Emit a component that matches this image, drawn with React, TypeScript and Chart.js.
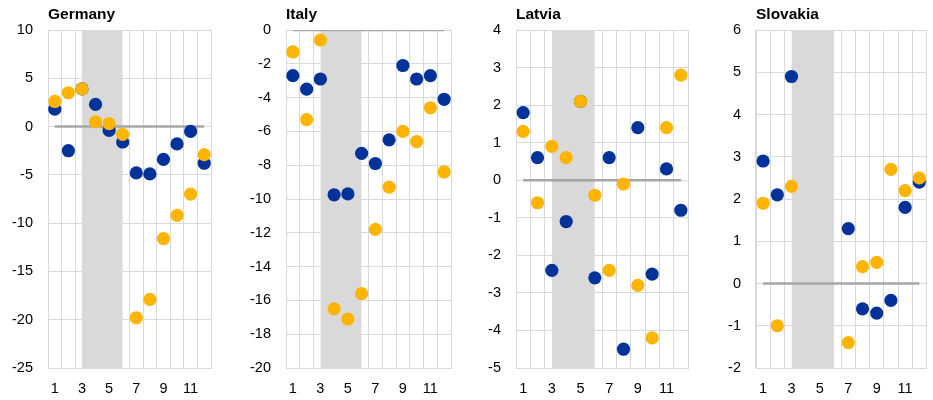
import React, { useEffect, useRef } from 'react';
import { Chart, registerables } from 'chart.js';

Chart.register(...registerables);

// Months on the horizontal axis
const MONTHS = ['1', '2', '3', '4', '5', '6', '7', '8', '9', '10', '11', '12'];
// Shaded window runs from month 3 to month 6 (category indices)
const SHADE_START = 2;
const SHADE_END = 5;

const GERMANY_BLUE = [1.8, -2.5, 3.9, 2.3, -0.4, -1.6, -4.8, -4.9, -3.4, -1.8, -0.5, -3.8];
const GERMANY_YELLOW = [2.6, 3.5, 3.9, 0.5, 0.3, -0.8, -19.8, -17.9, -11.6, -9.2, -7.0, -2.9];

const ITALY_BLUE = [-2.7, -3.5, -2.9, -9.75, -9.7, -7.3, -7.9, -6.5, -2.1, -2.9, -2.7, -4.1];
const ITALY_YELLOW = [-1.3, -5.3, -0.6, -16.5, -17.1, -15.6, -11.8, -9.3, -6.0, -6.6, -4.6, -8.4];

const LATVIA_BLUE = [1.8, 0.6, -2.4, -1.1, 2.1, -2.6, 0.6, -4.5, 1.4, -2.5, 0.3, -0.8];
const LATVIA_YELLOW = [1.3, -0.6, 0.9, 0.6, 2.1, -0.4, -2.4, -0.1, -2.8, -4.2, 1.4, 2.8];

const SLOVAKIA_BLUE = [2.9, 2.1, 4.9, null, null, null, 1.3, -0.6, -0.7, -0.4, 1.8, 2.4];
const SLOVAKIA_YELLOW = [1.9, -1.0, 2.3, null, null, null, -1.4, 0.4, 0.5, 2.7, 2.2, 2.5];

const BLUE = '#003299';
const YELLOW = '#FFB400';
const GRID = '#d9d9d9';
const SHADE = '#d9d9d9';
const ZERO_LINE = '#a6a6a6';
const FONT = 'Arial, "Liberation Sans", sans-serif';

type Panel = {
  title: string;
  blue: (number | null)[];
  yellow: (number | null)[];
  min: number;
  max: number;
  step: number;
  width: number;
  plotLeft: number;
  rightPad: number;
};

const PANELS: Panel[] = [
  { title: 'Germany', blue: GERMANY_BLUE, yellow: GERMANY_YELLOW, min: -25, max: 10, step: 5, width: 233, plotLeft: 48, rightPad: 22 },
  { title: 'Italy', blue: ITALY_BLUE, yellow: ITALY_YELLOW, min: -20, max: 0, step: 2, width: 233, plotLeft: 53, rightPad: 15 },
  { title: 'Latvia', blue: LATVIA_BLUE, yellow: LATVIA_YELLOW, min: -5, max: 4, step: 1, width: 233, plotLeft: 50, rightPad: 11 },
  { title: 'Slovakia', blue: SLOVAKIA_BLUE, yellow: SLOVAKIA_YELLOW, min: -2, max: 6, step: 1, width: 234, plotLeft: 57, rightPad: 4 },
];

function CountryChart({ panel }: { panel: Panel }) {
  const ref = useRef<HTMLCanvasElement | null>(null);

  useEffect(() => {
    if (!ref.current) return;
    const shade = MONTHS.map((_, i) => (i >= SHADE_START && i <= SHADE_END ? panel.max : null));
    const zero = MONTHS.map(() => 0);

    const chart = new Chart(ref.current, {
      type: 'line',
      data: {
        labels: MONTHS,
        datasets: [
          {
            label: 'yellow',
            data: panel.yellow,
            showLine: false,
            pointRadius: 6.6,
            pointBorderWidth: 0,
            pointBackgroundColor: YELLOW,
            pointBorderColor: YELLOW,
            order: 0,
          },
          {
            label: 'blue',
            data: panel.blue,
            showLine: false,
            pointRadius: 6.6,
            pointBorderWidth: 0,
            pointBackgroundColor: BLUE,
            pointBorderColor: BLUE,
            order: 1,
          },
          {
            label: 'zero',
            data: zero,
            borderColor: ZERO_LINE,
            borderWidth: 2.5,
            pointRadius: 0,
            order: 2,
          },
          {
            label: 'shade',
            data: shade,
            borderWidth: 0,
            borderColor: 'rgba(0,0,0,0)',
            backgroundColor: SHADE,
            pointRadius: 0,
            fill: 'start',
            spanGaps: false,
            order: 3,
          },
        ],
      },
      options: {
        animation: false,
        responsive: false,
        devicePixelRatio: 1,
        events: [],
        layout: { padding: { left: 0, right: panel.rightPad, top: 0, bottom: 3 } },
        plugins: {
          legend: { display: false },
          tooltip: { enabled: false },
          title: {
            display: true,
            text: panel.title,
            align: 'start',
            fullSize: false,
            color: '#000',
            font: { family: FONT, size: 15.5, weight: 'bold' },
            padding: { top: 5, bottom: 6.4 },
          },
        },
        scales: {
          x: {
            type: 'category',
            offset: true,
            grid: { offset: true, color: GRID, drawTicks: false, lineWidth: 1 },
            border: { color: GRID },
            ticks: {
              autoSkip: false,
              maxRotation: 0,
              padding: 12,
              color: '#000',
              font: { family: FONT, size: 14.5 },
              callback: (_v: any, i: number) => (i % 2 === 0 ? MONTHS[i] : ''),
            },
            afterFit: (scale: any) => {
              scale.height = 29;
            },
          },
          y: {
            min: panel.min,
            max: panel.max,
            grid: { color: GRID, drawTicks: false, lineWidth: 1 },
            border: { color: GRID },
            ticks: {
              stepSize: panel.step,
              padding: 15,
              color: '#000',
              font: { family: FONT, size: 14.5 },
            },
            afterFit: (scale: any) => {
              scale.width = panel.plotLeft;
            },
          },
        },
      },
    });
    return () => chart.destroy();
  }, [panel]);

  return <canvas ref={ref} width={panel.width} height={400} style={{ display: 'block' }} />;
}

export default function App() {
  return (
    <div
      style={{
        position: 'absolute',
        left: 0,
        top: 0,
        width: 933,
        height: 400,
        display: 'flex',
        background: '#fff',
      }}
    >
      {PANELS.map((p) => (
        <CountryChart key={p.title} panel={p} />
      ))}
    </div>
  );
}
